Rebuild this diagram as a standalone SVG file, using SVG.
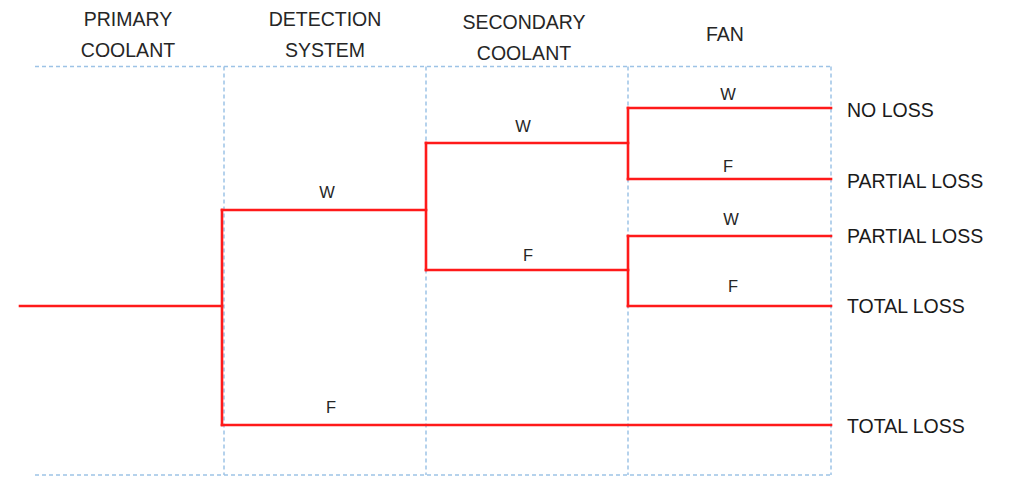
<svg xmlns="http://www.w3.org/2000/svg" width="1015" height="478" viewBox="0 0 1015 478">
  <style>
    .grid { stroke: #9dc3e6; stroke-width: 1.5; stroke-dasharray: 4 3; fill: none; }
    .branch { stroke: #ff1a1a; stroke-width: 2.6; fill: none; stroke-linejoin: miter; stroke-linecap: square; }
    .head { font-family: "Liberation Sans", Arial, sans-serif; font-size: 19.5px; fill: #262626; text-anchor: middle; }
    .lbl { font-family: "Liberation Sans", Arial, sans-serif; font-size: 16.5px; fill: #262626; text-anchor: middle; }
    .out { font-family: "Liberation Sans", Arial, sans-serif; font-size: 19.5px; fill: #1a1a1a; }
  </style>
  <rect width="1015" height="478" fill="#ffffff"/>

  <!-- column grid -->
  <g id="grid">
    <line class="grid" x1="35" y1="66.5" x2="831" y2="66.5"/>
    <line class="grid" x1="35" y1="475" x2="831" y2="475"/>
    <line class="grid" x1="224" y1="66.5" x2="224" y2="475"/>
    <line class="grid" x1="426" y1="66.5" x2="426" y2="475"/>
    <line class="grid" x1="628" y1="66.5" x2="628" y2="475"/>
    <line class="grid" x1="831" y1="66.5" x2="831" y2="475"/>
  </g>

  <!-- column headings -->
  <g id="head-primary">
    <text class="head" x="128" y="26">PRIMARY</text>
    <text class="head" x="128" y="57">COOLANT</text>
  </g>
  <g id="head-detection">
    <text class="head" x="325" y="26">DETECTION</text>
    <text class="head" x="325" y="57">SYSTEM</text>
  </g>
  <g id="head-secondary">
    <text class="head" x="524" y="29">SECONDARY</text>
    <text class="head" x="524" y="60">COOLANT</text>
  </g>
  <g id="head-fan">
    <text class="head" x="725" y="41">FAN</text>
  </g>

  <!-- event tree branches -->
  <g id="connectors">
    <path class="branch" d="M20 306 H222"/>
    <path class="branch" d="M222 210 V425"/>
    <path class="branch" d="M222 210 H426"/>
    <path class="branch" d="M222 425 H831"/>
    <path class="branch" d="M426 143 V270"/>
    <path class="branch" d="M426 143 H628"/>
    <path class="branch" d="M426 270 H628"/>
    <path class="branch" d="M628 108 V179"/>
    <path class="branch" d="M628 108 H831"/>
    <path class="branch" d="M628 179 H831"/>
    <path class="branch" d="M628 236 V306"/>
    <path class="branch" d="M628 236 H831"/>
    <path class="branch" d="M628 306 H831"/>
  </g>

  <!-- branch labels -->
  <g id="branch-labels">
    <text class="lbl" x="327" y="198">W</text>
    <text class="lbl" x="331" y="413">F</text>
    <text class="lbl" x="523" y="132">W</text>
    <text class="lbl" x="528" y="261">F</text>
    <text class="lbl" x="728" y="100">W</text>
    <text class="lbl" x="728" y="172">F</text>
    <text class="lbl" x="731" y="225">W</text>
    <text class="lbl" x="733" y="292">F</text>
  </g>

  <!-- outcomes -->
  <g id="outcome-1"><text class="out" x="847" y="117">NO LOSS</text></g>
  <g id="outcome-2"><text class="out" x="847" y="188">PARTIAL LOSS</text></g>
  <g id="outcome-3"><text class="out" x="847" y="243">PARTIAL LOSS</text></g>
  <g id="outcome-4"><text class="out" x="847" y="313">TOTAL LOSS</text></g>
  <g id="outcome-5"><text class="out" x="847" y="433">TOTAL LOSS</text></g>
</svg>
